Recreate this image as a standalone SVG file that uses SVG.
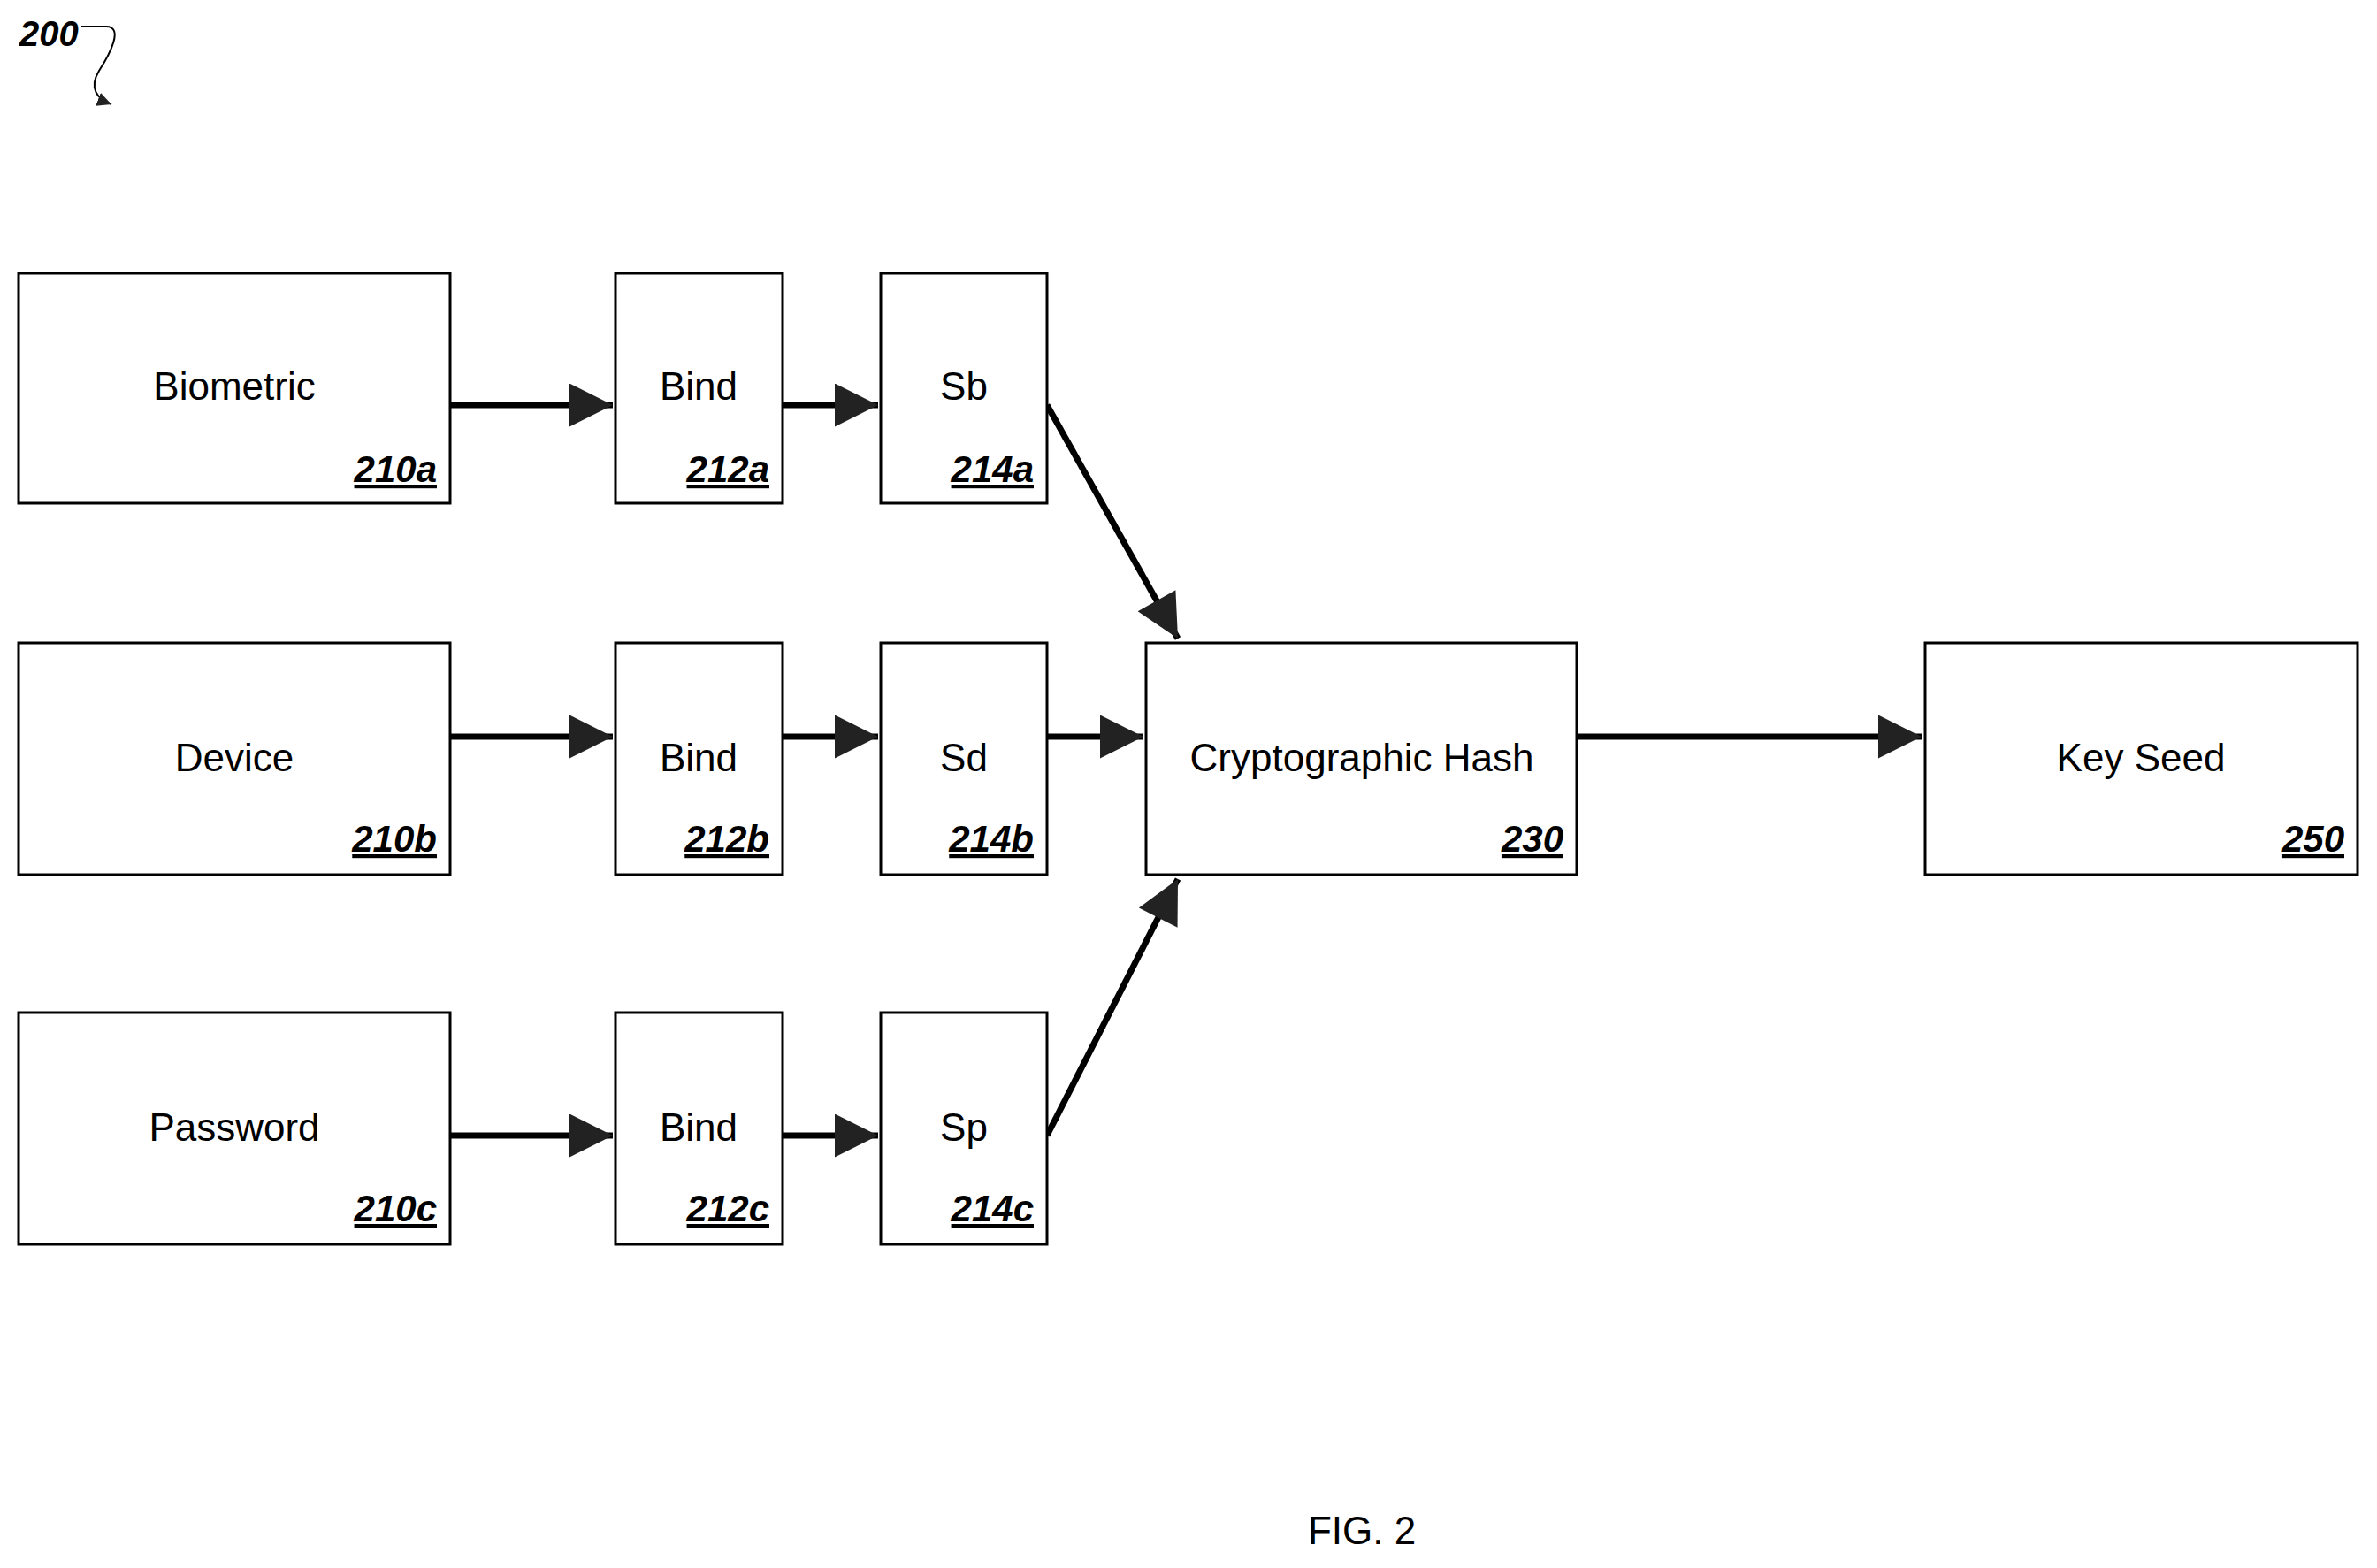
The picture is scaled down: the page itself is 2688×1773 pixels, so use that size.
<svg xmlns="http://www.w3.org/2000/svg" width="2688" height="1773" viewBox="0 0 2688 1773">
<style>
.b{fill:#fff;stroke:#000;stroke-width:3}
.t{font-family:"Liberation Sans",Arial,sans-serif;font-size:44px;text-anchor:middle}
.r{font-family:"Liberation Sans",Arial,sans-serif;font-size:42px;font-weight:bold;font-style:italic;text-anchor:end;text-decoration:underline}
.c{stroke:#000;stroke-width:7;fill:none;marker-end:url(#a)}
</style>
<defs>
<marker id="a" viewBox="0 0 10 10" refX="10" refY="5" markerWidth="8" markerHeight="7" markerUnits="strokeWidth" orient="auto"><path d="M0,0L10,5L0,10z" fill="#222"/></marker>
<marker id="s" viewBox="0 0 10 10" refX="10" refY="5" markerWidth="8" markerHeight="8" orient="auto"><path d="M0,0L10,5L0,10z" fill="#222"/></marker>
</defs>
<text x="22" y="52" font-family="Liberation Sans,Arial,sans-serif" font-size="40" font-weight="bold" font-style="italic">200</text>
<path d="M92,30 H120 C140,30 125,60 112,80 C100,100 110,112 126,118" fill="none" stroke="#000" stroke-width="2" marker-end="url(#s)"/>
<g id="connectors">
<line class="c" x1="509" y1="458" x2="693" y2="458"/>
<line class="c" x1="885" y1="458" x2="993" y2="458"/>
<line class="c" x1="509" y1="833" x2="693" y2="833"/>
<line class="c" x1="885" y1="833" x2="993" y2="833"/>
<line class="c" x1="1184" y1="833" x2="1293" y2="833"/>
<line class="c" x1="509" y1="1284" x2="693" y2="1284"/>
<line class="c" x1="885" y1="1284" x2="993" y2="1284"/>
<line class="c" x1="1783" y1="833" x2="2173" y2="833"/>
<line class="c" x1="1184" y1="458" x2="1332" y2="722"/>
<line class="c" x1="1184" y1="1284" x2="1332" y2="994"/>
</g>
<g id="n210a"><rect class="b" x="21" y="309" width="488" height="260"/><text class="t" x="265" y="452">Biometric</text><text class="r" x="494" y="545">210a</text></g>
<g id="n212a"><rect class="b" x="696" y="309" width="189" height="260"/><text class="t" x="790" y="452">Bind</text><text class="r" x="870" y="545">212a</text></g>
<g id="n214a"><rect class="b" x="996" y="309" width="188" height="260"/><text class="t" x="1090" y="452">Sb</text><text class="r" x="1169" y="545">214a</text></g>
<g id="n210b"><rect class="b" x="21" y="727" width="488" height="262"/><text class="t" x="265" y="872">Device</text><text class="r" x="494" y="963">210b</text></g>
<g id="n212b"><rect class="b" x="696" y="727" width="189" height="262"/><text class="t" x="790" y="872">Bind</text><text class="r" x="870" y="963">212b</text></g>
<g id="n214b"><rect class="b" x="996" y="727" width="188" height="262"/><text class="t" x="1090" y="872">Sd</text><text class="r" x="1169" y="963">214b</text></g>
<g id="n210c"><rect class="b" x="21" y="1145" width="488" height="262"/><text class="t" x="265" y="1290">Password</text><text class="r" x="494" y="1381">210c</text></g>
<g id="n212c"><rect class="b" x="696" y="1145" width="189" height="262"/><text class="t" x="790" y="1290">Bind</text><text class="r" x="870" y="1381">212c</text></g>
<g id="n214c"><rect class="b" x="996" y="1145" width="188" height="262"/><text class="t" x="1090" y="1290">Sp</text><text class="r" x="1169" y="1381">214c</text></g>
<g id="n230"><rect class="b" x="1296" y="727" width="487" height="262"/><text class="t" x="1540" y="872">Cryptographic Hash</text><text class="r" x="1768" y="963">230</text></g>
<g id="n250"><rect class="b" x="2177" y="727" width="489" height="262"/><text class="t" x="2421" y="872">Key Seed</text><text class="r" x="2651" y="963">250</text></g>
<text class="t" x="1540" y="1746" font-size="52">FIG. 2</text>
</svg>
